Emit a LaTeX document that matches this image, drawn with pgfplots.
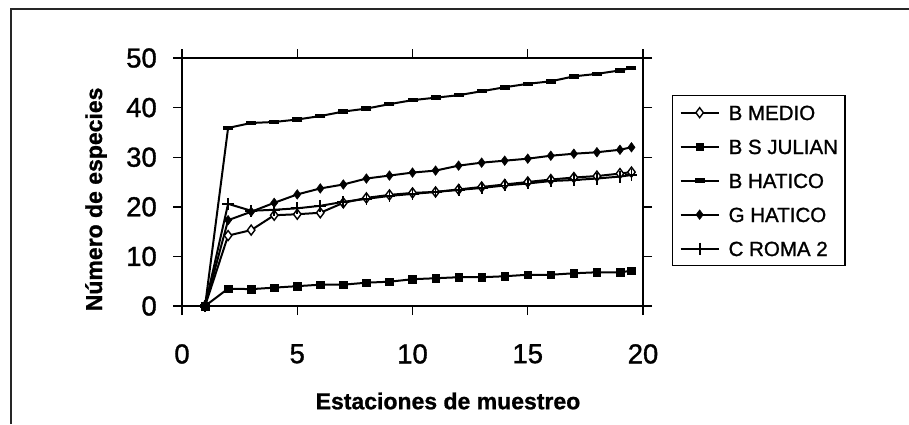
\documentclass[border=0pt]{standalone}
\usepackage{pgfplots}
\usepackage{pgfplotstable}
\pgfplotsset{compat=1.18}
\usepackage{fontspec}
\setmainfont{Liberation Sans}
\newfontfamily\heavyfont{Liberation Sans}[FakeBold=1.2]
\newfontfamily\labfont{Liberation Sans Bold}[FakeBold=1.0]

\pgfplotstableread{
x     bmedio bsjulian bhatico ghatico croma
1     0      0        0       0       0
2     14.2   3.5      35.9    17.3    20.6
3     15.3   3.4      36.9    19.0    19.2
4     18.3   3.7      37.1    20.8    19.4
5     18.5   4.0      37.6    22.5    19.7
6     18.8   4.3      38.3    23.7    20.2
7     20.8   4.3      39.2    24.5    21.0
8     21.8   4.7      39.8    25.7    21.6
9     22.4   4.9      40.7    26.3    22.2
10    22.8   5.4      41.5    26.9    22.6
11    23.0   5.6      42.0    27.3    23.0
12    23.5   5.8      42.5    28.3    23.4
13    24.0   5.8      43.3    28.9    23.8
14    24.5   6.0      44.1    29.3    24.3
15    25.0   6.3      44.8    29.7    24.7
16    25.5   6.3      45.3    30.3    25.2
17    25.9   6.6      46.3    30.7    25.4
18    26.2   6.8      46.8    31.0    25.7
19    26.7   6.8      47.5    31.5    26.1
19.5  27.0   7.1      48.0    32.0    26.4
}\datatable

\begin{document}
\begin{tikzpicture}[x=1pt,y=1pt]
\useasboundingbox (0,0) rectangle (909,424);
\draw[line width=1.3pt, black!85] (11,0) -- (11,415) -- (909,415);
\begin{axis}[
  at={(182pt,118pt)}, anchor=south west,
  width=461pt, height=248pt, scale only axis,
  xmin=0, xmax=20, ymin=0, ymax=50,
  xtick={0,5,10,15,20}, ytick={0,10,20,30,40,50},
  tick align=outside, major tick length=9pt,
  tick style={line width=1.4pt, black},
  axis line style={line width=1.4pt},
  /pgf/number format/assume math mode=true,
  ticklabel style={font=\heavyfont\fontsize{27.5}{27.5}\selectfont},
  xticklabel style={anchor=north, inner sep=0pt, yshift=-29pt},
  yticklabel style={anchor=east, inner sep=0pt, xshift=-16pt},
  xlabel={Estaciones de muestreo},
  ylabel={Número de especies},
  xlabel style={font=\labfont\fontsize{23}{23}\selectfont, at={(rel axis cs:0.577,-0.383)}, anchor=center},
  ylabel style={font=\labfont\fontsize{23}{23}\selectfont, at={(rel axis cs:-0.1866,0.43)}, anchor=center, rotate=0},
  every axis plot/.append style={line width=2pt, black},
  legend style={at={(1.0629,0.8508)}, anchor=north west, draw=black, line width=1.3pt,
    font=\heavyfont\fontsize{20.5}{20.5}\selectfont, inner xsep=7pt, inner ysep=0pt,
    column sep=9pt,
    nodes={inner sep=0pt, minimum height=34pt, text height=14.7pt, text depth=0pt},
    cells={anchor=west}},
  legend image code/.code={\draw[mark repeat=2,mark phase=2,#1] plot coordinates {(0pt,0pt) (19pt,0pt) (38pt,0pt)};},
]
\addplot[mark=diamond*, mark size=5pt, mark options={fill=white, line width=1.4pt}] table[x=x,y=bmedio] {\datatable};
\addlegendentry{B MEDIO}
\addplot[mark=square*, mark size=3.8pt, mark options={line width=0.5pt}] table[x=x,y=bsjulian] {\datatable};
\addlegendentry{B S JULIAN}
\addplot[mark=-, mark size=5pt, mark options={line width=4.5pt}] table[x=x,y=bhatico] {\datatable};
\addlegendentry{B HATICO}
\addplot[mark=diamond*, mark size=4.8pt, mark options={line width=0.5pt}] table[x=x,y=ghatico] {\datatable};
\addlegendentry{G HATICO}
\addplot[mark=+, mark size=6pt, mark options={line width=1.8pt}] table[x=x,y=croma] {\datatable};
\addlegendentry{C ROMA 2}
\end{axis}
\end{tikzpicture}
\end{document}
